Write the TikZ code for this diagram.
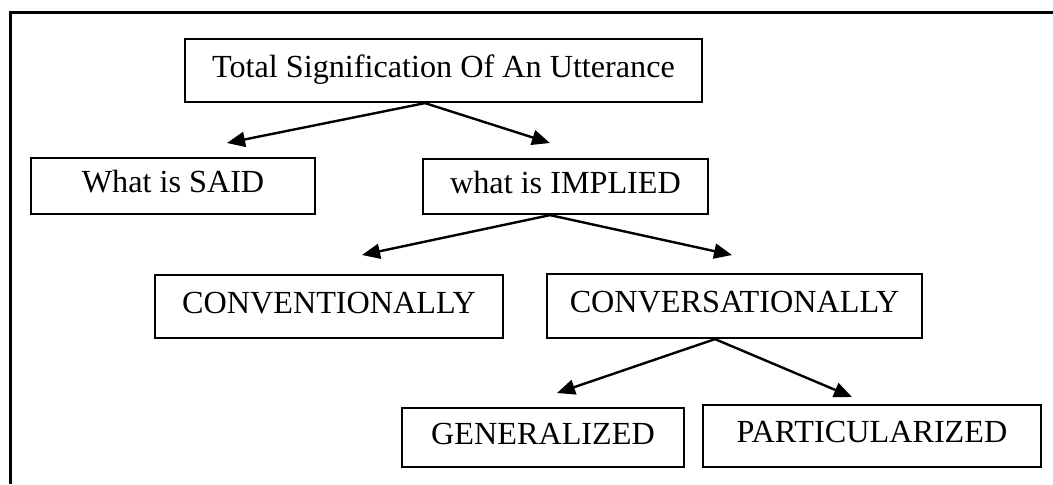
\documentclass[tikz,border=0pt]{standalone}
\usepackage{fontspec}
\setmainfont{Liberation Serif}
\usetikzlibrary{arrows.meta,calc}
\begin{document}
\begin{tikzpicture}[x=0.5pt,y=-0.5pt,
  box/.style={draw=black,line width=1.1pt,rectangle,inner sep=0pt,
    font=\fontsize{16.1}{19}\selectfont,text height=0.68em,text depth=0.03em},
  arr/.style={line width=1.2pt,-{Triangle[length=9pt,width=7.5pt]}},
  frame/.style={line width=1.9pt}]
\useasboundingbox (0,0) rectangle (1053,484);
\fill[white] (0,0) rectangle (1053,484);
\draw[frame] (10.5,484) -- (10.5,12.5) -- (1053,12.5);

\node[box,minimum width=258.5pt,minimum height=31.5pt] (total) at (443.5,70.5) {Total Signification Of An Utterance};
\node[box,minimum width=142pt,minimum height=28pt] (said) at (173,186) {What is SAID};
\node[box,minimum width=142.5pt,minimum height=27.5pt] (implied) at (565.5,186.5) {what is IMPLIED};
\node[box,minimum width=174pt,minimum height=31.5pt] (conv) at (329,306.5) {CONVENTIONALLY};
\node[box,minimum width=187.5pt,minimum height=32pt] (convers) at (734.5,306) {CONVERSATIONALLY};
\node[box,minimum width=141pt,minimum height=29.5pt] (gen) at (543,437.5) {GENERALIZED};
\node[box,minimum width=169pt,minimum height=31pt] (part) at (872,436) {PARTICULARIZED};

\coordinate (ts) at ($(total.south)+(-18.5,0)$);
\coordinate (is) at ($(implied.south)+(-15.5,0)$);
\coordinate (cs) at ($(convers.south)+(-19.5,0)$);
\coordinate (saidtip) at (227,143);
\coordinate (impltip) at (550,143);
\coordinate (convtip) at (362,255);
\coordinate (converstip) at (732,255);
\coordinate (gentip) at (557,393);
\coordinate (parttip) at (852,397);

\draw[arr] (ts) -- (saidtip);
\draw[arr] (ts) -- (impltip);
\draw[arr] (is) -- (convtip);
\draw[arr] (is) -- (converstip);
\draw[arr] (cs) -- (gentip);
\draw[arr] (cs) -- (parttip);
\end{tikzpicture}
\end{document}
